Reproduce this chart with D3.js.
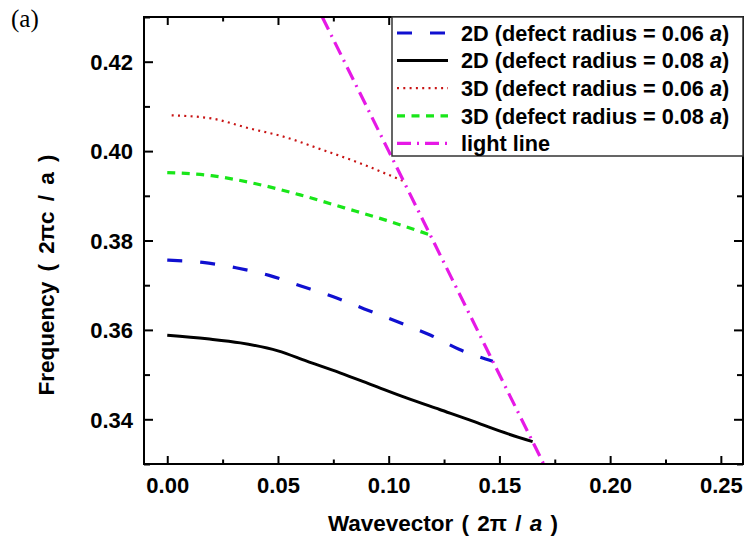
<!DOCTYPE html>
<html>
<head>
<meta charset="utf-8">
<script src="https://cdn.jsdelivr.net/npm/d3@7"></script>
<style>
  html, body { margin: 0; padding: 0; background: #fff; }
  svg { display: block; }
</style>
</head>
<body>
<svg id="chart" width="747" height="543"></svg>
<script>
// ---------- data ----------
const xTicks = [0.00, 0.05, 0.10, 0.15, 0.20, 0.25];
const yTicks = [0.34, 0.36, 0.38, 0.40, 0.42];
const xMinor = [0.025, 0.075, 0.125, 0.175, 0.225];
const yMinor = [0.33, 0.35, 0.37, 0.39, 0.41, 0.43];

const red06_k = [0.002, 0.020, 0.037, 0.052, 0.070, 0.087, 0.107];
const red06_f = [0.4080, 0.4073, 0.4051, 0.4033, 0.4003, 0.3973, 0.3932];

const green08_k = [0.000, 0.020, 0.040, 0.060, 0.080, 0.099, 0.119];
const green08_f = [0.3952, 0.3945, 0.3927, 0.3902, 0.3873, 0.3845, 0.3812];

const blue06_k = [0.000, 0.016, 0.031, 0.046, 0.060, 0.075, 0.089, 0.104, 0.119, 0.132, 0.147];
const blue06_f = [0.3756, 0.3751, 0.3739, 0.3722, 0.3699, 0.3674, 0.3647, 0.3618, 0.3588, 0.3556, 0.3530];

const black08_k = [0.000, 0.018, 0.033, 0.050, 0.063, 0.078, 0.093, 0.108, 0.123, 0.138, 0.150, 0.165];
const black08_f = [0.3588, 0.3580, 0.3571, 0.3553, 0.3530, 0.3504, 0.3476, 0.3448, 0.3422, 0.3396, 0.3374, 0.3350];

const light_k = [0.070, 0.100, 0.130, 0.170];
const light_f = [0.430, 0.400, 0.370, 0.330];

const legendLabels = ["2D (defect radius = 0.06 ", "2D (defect radius = 0.08 ", "3D (defect radius = 0.06 ", "3D (defect radius = 0.08 ", "light line"];

// ---------- layout ----------
const SANS = "'Liberation Sans', Arial, sans-serif";
const svg = d3.select("#chart");
const L = 144, R = 743, T = 17, B = 464;
const x = d3.scaleLinear().domain([-0.0105, 0.26]).range([L, R]);
const y = d3.scaleLinear().domain([0.33, 0.43]).range([B, T]);

svg.append("defs").append("clipPath").attr("id", "clip")
  .append("rect").attr("x", L).attr("y", T).attr("width", R - L).attr("height", B - T);

const series = [
  { k: blue06_k, f: blue06_f, color: "#1010d0", width: 3.2, dash: "15,18", cap: "butt" },
  { k: black08_k, f: black08_f, color: "#000000", width: 3, dash: null, cap: "butt" },
  { k: red06_k, f: red06_f, color: "#c81414", width: 2.2, dash: "2,4.3", cap: "butt" },
  { k: green08_k, f: green08_f, color: "#19e619", width: 3.2, dash: "8,6.5", cap: "butt" },
  { k: light_k, f: light_f, color: "#e619e6", width: 3.2, dash: "14,6,2,6", cap: "butt" }
];

const line = d3.line().x(d => x(d[0])).y(d => y(d[1])).curve(d3.curveMonotoneX);

const plot = svg.append("g").attr("clip-path", "url(#clip)");
series.forEach(s => {
  plot.append("path")
    .datum(s.k.map((v, i) => [v, s.f[i]]))
    .attr("d", line)
    .attr("fill", "none")
    .attr("stroke", s.color)
    .attr("stroke-width", s.width)
    .attr("stroke-dasharray", s.dash)
    .attr("stroke-linejoin", "round");
});

// ---------- axes ----------
const axB = svg.append("g").attr("transform", `translate(0,${B})`)
  .call(d3.axisBottom(x).tickValues(xTicks).tickFormat(d3.format(".2f")).tickSizeInner(-8).tickSizeOuter(0).tickPadding(13));
const axBm = svg.append("g").attr("transform", `translate(0,${B})`)
  .call(d3.axisBottom(x).tickValues(xMinor).tickFormat("").tickSizeInner(-4.5).tickSizeOuter(0));
const axT = svg.append("g").attr("transform", `translate(0,${T})`)
  .call(d3.axisTop(x).tickValues(xTicks).tickFormat("").tickSizeInner(-8).tickSizeOuter(0));
const axTm = svg.append("g").attr("transform", `translate(0,${T})`)
  .call(d3.axisTop(x).tickValues(xMinor).tickFormat("").tickSizeInner(-4.5).tickSizeOuter(0));
const axL = svg.append("g").attr("transform", `translate(${L},0)`)
  .call(d3.axisLeft(y).tickValues(yTicks).tickFormat(d3.format(".2f")).tickSizeInner(-9).tickSizeOuter(0).tickPadding(11));
const axLm = svg.append("g").attr("transform", `translate(${L},0)`)
  .call(d3.axisLeft(y).tickValues(yMinor).tickFormat("").tickSizeInner(-6).tickSizeOuter(0));
const axR = svg.append("g").attr("transform", `translate(${R},0)`)
  .call(d3.axisRight(y).tickValues(yTicks).tickFormat("").tickSizeInner(-9).tickSizeOuter(0));
const axRm = svg.append("g").attr("transform", `translate(${R},0)`)
  .call(d3.axisRight(y).tickValues(yMinor).tickFormat("").tickSizeInner(-6).tickSizeOuter(0));

[axB, axBm, axT, axTm, axL, axLm, axR, axRm].forEach(g => {
  g.select(".domain").remove();
  g.selectAll(".tick line").attr("stroke", "#000").attr("stroke-width", 2);
  g.selectAll("text").attr("fill", "#000").attr("font-size", 22).attr("font-weight", "bold")
    .attr("font-family", SANS);
});
axL.selectAll("text").attr("dy", "0.35em");

// frame
svg.append("rect").attr("x", L).attr("y", T).attr("width", R - L).attr("height", B - T)
  .attr("fill", "none").attr("stroke", "#000").attr("stroke-width", 2);

// ---------- legend ----------
const lg = svg.append("g");
lg.append("rect").attr("x", 392).attr("y", T).attr("width", R - 392).attr("height", 156 - T)
  .attr("fill", "#fff").attr("stroke", "#333").attr("stroke-width", 1.5);
const rowY = i => 33 + 27.6 * i;
series.forEach((s, i) => {
  lg.append("line").attr("x1", 397).attr("x2", 448).attr("y1", rowY(i)).attr("y2", rowY(i))
    .attr("stroke", s.color).attr("stroke-width", s.width).attr("stroke-dasharray", s.dash);
  const t = lg.append("text").attr("x", 461).attr("y", rowY(i)).attr("dy", "0.36em")
    .attr("font-size", 21.7).attr("font-weight", "bold").attr("fill", "#000")
    .attr("font-family", SANS).style("white-space", "pre");
  t.append("tspan").text(legendLabels[i]);
  if (i < 4) {
    t.append("tspan").attr("font-style", "italic").text("a");
    t.append("tspan").text(")");
  }
});

// ---------- titles ----------
const xt = svg.append("text").attr("x", 443).attr("y", 531).attr("text-anchor", "middle")
  .attr("font-size", 22.5).attr("font-weight", "bold").attr("font-family", SANS)
  .style("white-space", "pre").style("word-spacing", "2px");
xt.append("tspan").text("Wavevector ( 2π / ");
xt.append("tspan").attr("font-style", "italic").text("a");
xt.append("tspan").text(" )");

svg.append("text").attr("transform", "translate(54,275) rotate(-90)").attr("text-anchor", "middle")
  .attr("font-size", 22.5).attr("font-weight", "bold").attr("font-family", SANS)
  .style("white-space", "pre").style("word-spacing", "4px")
  .text("Frequency ( 2πc / a )");

svg.append("text").attr("x", 11).attr("y", 27).attr("font-size", 25)
  .attr("font-family", "'Liberation Serif', 'Times New Roman', serif").text("(a)");
</script>
</body>
</html>
